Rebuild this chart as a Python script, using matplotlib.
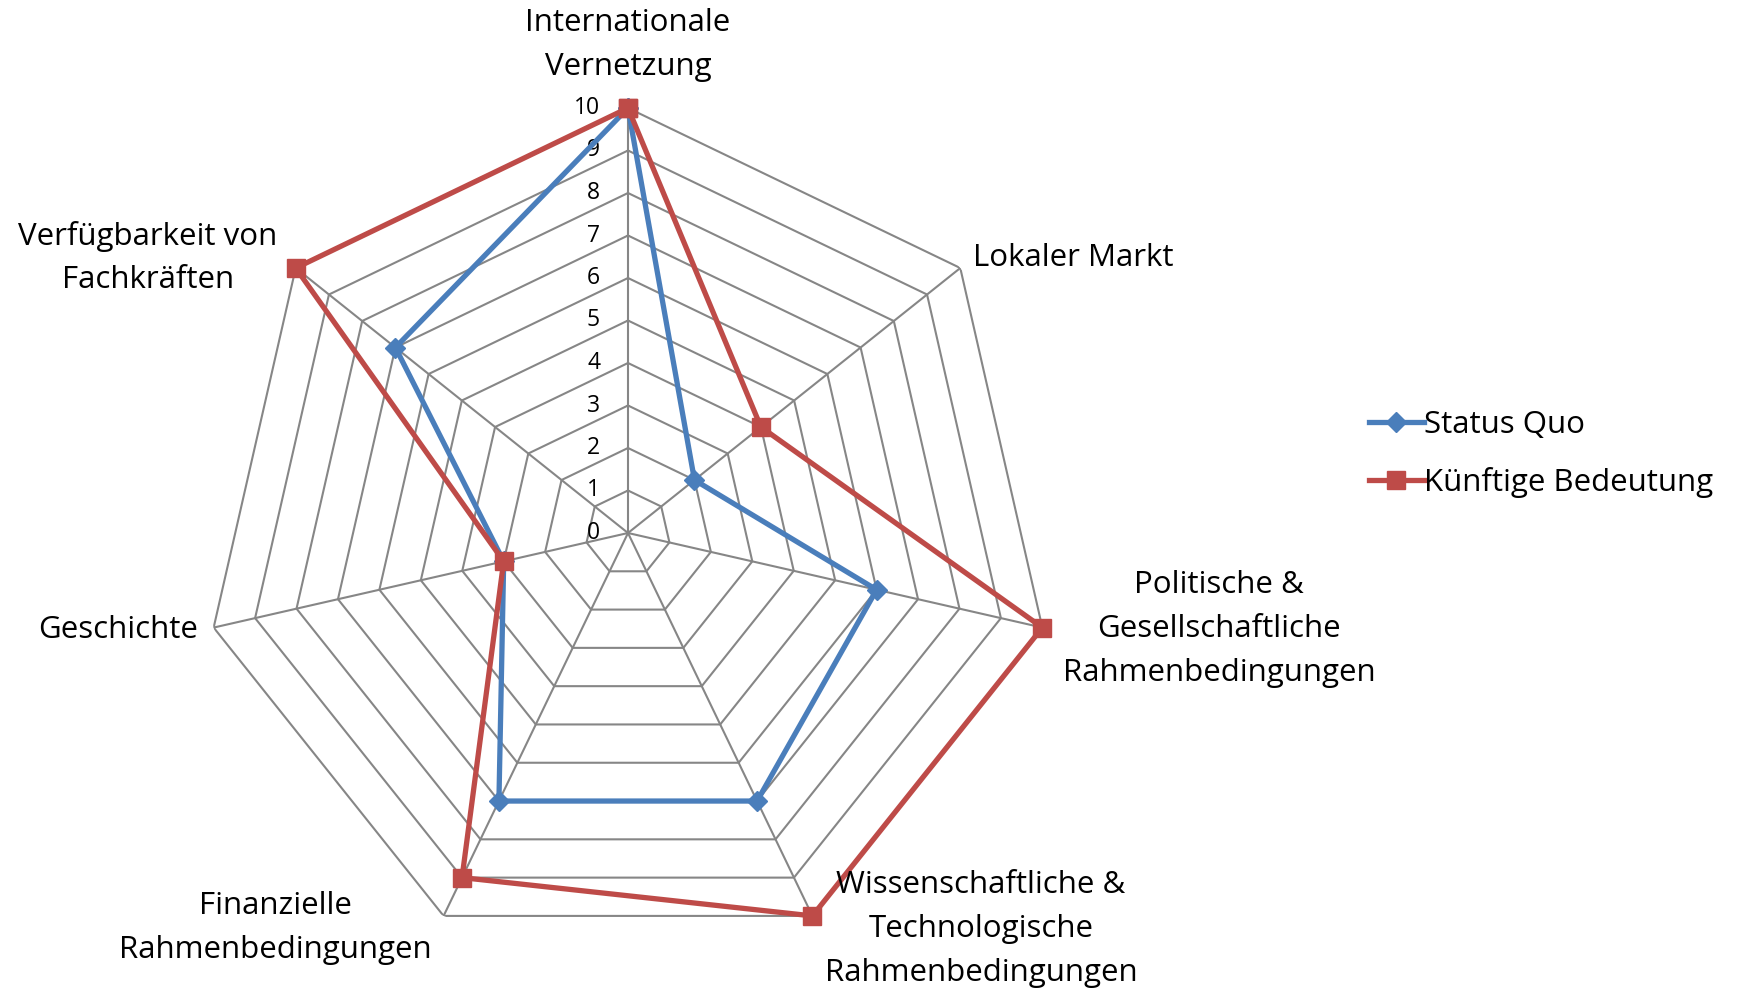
import numpy as np
import matplotlib
matplotlib.use("Agg")
import matplotlib.pyplot as plt

plt.rcParams['font.family'] = ['Open Sans', 'DejaVu Sans']

# categories clockwise from the top
categories = [
    "Internationale\nVernetzung",
    "Lokaler Markt",
    "Politische &\nGesellschaftliche\nRahmenbedingungen",
    "Wissenschaftliche &\nTechnologische\nRahmenbedingungen",
    "Finanzielle\nRahmenbedingungen",
    "Geschichte",
    "Verfügbarkeit von\nFachkräften",
]
status_quo = [10, 2, 6, 7, 7, 3, 7]
kuenftig = [10, 4, 10, 10, 9, 3, 10]
ticks = list(range(0, 11))

W, H = 1743, 993
fig = plt.figure(figsize=(W / 100, H / 100), dpi=100)

# polar axes: centre at (628, 533) px, radius 425 px
cx, cy, R = 628, 533, 425
ax = fig.add_axes([(cx - R) / W, (H - cy - R) / H, 2 * R / W, 2 * R / H],
                  projection='polar')
ax.set_theta_zero_location('N')
ax.set_theta_direction(-1)
ax.set_ylim(0, 10)
ax.grid(False)
ax.spines['polar'].set_visible(False)
ax.set_xticks([])
ax.set_yticks([])

n = len(categories)
angles = np.linspace(0, 2 * np.pi, n, endpoint=False)
closed = np.append(angles, angles[0])

grid_col = '#868686'
for r in ticks[1:]:
    ax.plot(closed, [r] * (n + 1), color=grid_col, lw=1.5, zorder=1)
for a in angles:
    ax.plot([a, a], [0, 10], color=grid_col, lw=1.5, zorder=1)

# tick labels along the top spoke
for t in ticks:
    ax.annotate(str(t), xy=(0, t), xytext=(-28, 0), textcoords='offset pixels',
                ha='right', va='center', fontsize=16.5)

ax.plot(closed, status_quo + status_quo[:1], color='#4A7EBB', lw=3.8,
        marker='D', markersize=10, label='Status Quo', zorder=3, clip_on=False)
ax.plot(closed, kuenftig + kuenftig[:1], color='#BE4B48', lw=3.8,
        marker='s', markersize=13, label='Künftige Bedeutung', zorder=4,
        clip_on=False)

# category labels (pixel positions of the reference)
label_pos = [
    (628, 45, 'center'),
    (973, 258, 'left'),
    (1219, 629, 'center'),
    (981, 929, 'center'),
    (275, 928, 'center'),
    (198, 630, 'right'),
    (148, 258, 'center'),
]
for text, (x, y, ha) in zip(categories, label_pos):
    fig.text(x / W, 1 - y / H, text, ha=ha, va='center', fontsize=22.5,
             linespacing=1.6)

fig.legend(loc='center left', bbox_to_anchor=(1369 / W, 1 - 454 / H),
           frameon=False, fontsize=22.5, handlelength=1.75, handletextpad=0.0,
           labelspacing=0.85, borderaxespad=0, borderpad=0)

fig.savefig('out.png', dpi=100)
